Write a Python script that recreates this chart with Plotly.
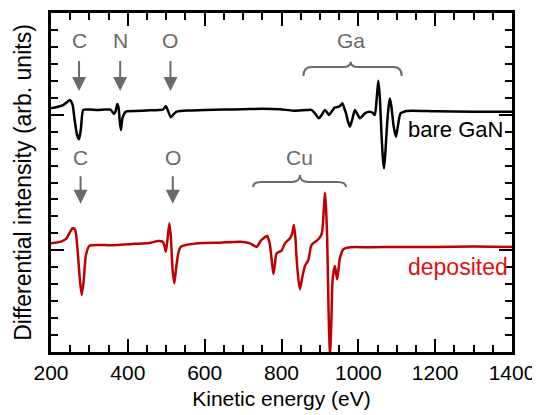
import plotly.graph_objects as go

# bare GaN spectrum (kinetic energy in eV, offset intensity)
bare_x = [200, 215, 230, 242, 249, 256, 262, 268, 273, 278, 284, 300, 320, 340, 355,
          364, 368, 372.6, 376, 379, 382, 386, 395, 420, 450, 480, 492, 499, 505, 512,
          520, 527, 560, 600, 650, 700, 750, 796, 831, 866, 878, 888, 897, 905, 913,
          918, 924, 931, 939, 946, 952, 959, 963, 968, 973, 978, 984, 991, 997, 1004,
          1010, 1017, 1030, 1038, 1043, 1048, 1052, 1056, 1060, 1064, 1067, 1071, 1075,
          1079, 1082, 1086, 1092, 1098, 1104, 1110, 1126, 1200, 1300, 1400]
bare_y = [14.38, 14.45, 14.55, 14.75, 14.87, 14.6, 13.6, 12.8, 12.55, 13.2, 14.28, 14.3,
          14.28, 14.3, 14.3, 14.04, 14.2, 14.63, 14.4, 13.6, 13.1, 13.8, 14.18, 14.22,
          14.25, 14.28, 14.32, 14.5, 14.2, 13.85, 14.05, 14.18, 14.25, 14.28, 14.3, 14.32,
          14.35, 14.32, 14.24, 14.28, 14.28, 14.05, 13.79, 14.0, 14.28, 14.15, 13.98, 14.2,
          14.43, 14.45, 14.51, 14.67, 14.4, 14.08, 13.6, 13.29, 13.7, 14.28, 14.05, 13.79,
          13.9, 14.08, 14.18, 14.1, 13.98, 15.0, 16.0, 15.0, 13.0, 11.4, 10.84, 12.0, 13.49,
          14.5, 14.96, 14.5, 13.3, 12.7, 13.5, 14.08, 14.22, 14.2, 14.18, 14.18]

# Cu-deposited spectrum
dep_x = [200, 226, 239, 250, 256, 262, 265, 270, 275, 280, 285, 291, 300, 350, 374, 420,
         460, 478, 491, 496, 499, 503, 508, 512, 516, 521, 526, 532, 538, 582, 640, 692,
         718, 735, 748, 763, 767, 770, 775, 779, 783, 787, 800, 809, 822, 828, 832, 836,
         839, 844, 848, 854, 861, 870, 878, 896, 905, 909, 913, 916, 919, 922, 926, 930,
         933, 939, 945, 952, 961, 978, 1030, 1100, 1200, 1300, 1400]
dep_y = [6.41, 6.51, 6.67, 7.1, 7.3, 7.25, 7.0, 5.8, 4.3, 3.36, 4.2, 5.72, 6.27, 6.3, 6.31,
         6.38, 6.45, 6.55, 6.51, 6.2, 5.92, 6.6, 7.59, 6.8, 5.0, 4.05, 5.0, 5.9, 6.21, 6.41,
         6.45, 6.51, 6.41, 6.21, 6.61, 6.84, 6.6, 6.31, 5.3, 4.6, 5.2, 5.82, 5.98, 6.41,
         6.71, 7.0, 7.49, 6.8, 5.62, 4.3, 3.7, 4.4, 5.07, 5.43, 6.31, 6.65, 7.0, 8.0, 9.4,
         8.5, 6.61, 3.0, -0.5, 2.0, 4.25, 5.07, 4.29, 5.53, 6.06, 6.18, 6.18, 6.2, 6.2,
         6.22, 6.2]

# element markers
bare_labels = ["C", "N", "O"]
bare_pos = [273, 380, 511]
dep_labels = ["C", "O"]
dep_pos = [277, 517]

FONT = "Liberation Sans, Arial, sans-serif"
GRAY = "#6a6a6a"

fig = go.Figure()
fig.add_trace(go.Scatter(x=bare_x, y=bare_y, mode="lines",
                         line=dict(color="black", width=2.5, shape="spline", smoothing=0.6),
                         showlegend=False))
fig.add_trace(go.Scatter(x=dep_x, y=dep_y, mode="lines",
                         line=dict(color="#c00000", width=2.5, shape="spline", smoothing=0.6),
                         showlegend=False))

ann = []
for lab, xv in zip(bare_labels, bare_pos):
    ann.append(dict(x=xv, y=18.4, text=lab, showarrow=False,
                    font=dict(size=21, color=GRAY, family=FONT)))
    ann.append(dict(x=xv, y=15.4, ax=xv, ay=17.25, axref="x", ayref="y", text="",
                    showarrow=True, arrowhead=2, arrowsize=1.4, arrowwidth=2,
                    arrowcolor=GRAY))
for lab, xv in zip(dep_labels, dep_pos):
    ann.append(dict(x=xv, y=11.5, text=lab, showarrow=False,
                    font=dict(size=21, color=GRAY, family=FONT)))
    ann.append(dict(x=xv, y=8.75, ax=xv, ay=10.45, axref="x", ayref="y", text="",
                    showarrow=True, arrowhead=2, arrowsize=1.4, arrowwidth=2,
                    arrowcolor=GRAY))
ann.append(dict(x=980, y=18.4, text="Ga", showarrow=False,
                font=dict(size=21, color=GRAY, family=FONT)))
ann.append(dict(x=848, y=11.5, text="Cu", showarrow=False,
                font=dict(size=21, color=GRAY, family=FONT)))
ann.append(dict(x=1382, y=13.1, text="bare GaN", showarrow=False, xanchor="right",
                font=dict(size=22, color="black", family=FONT)))
ann.append(dict(x=1396, y=5.0, text="deposited", showarrow=False, xanchor="right",
                font=dict(size=23, color="#e01010", family=FONT)))


def brace(x0, x1, xm, yend, ymid, ytip):
    return (f"M {x0},{yend} Q {x0},{ymid} {x0 + 22},{ymid} L {xm - 22},{ymid} "
            f"Q {xm},{ymid} {xm},{ytip} Q {xm},{ymid} {xm + 22},{ymid} "
            f"L {x1 - 22},{ymid} Q {x1},{ymid} {x1},{yend}")


shapes = [
    dict(type="path", xref="x", yref="y", path=brace(857, 1113, 980, 16.28, 16.81, 17.13),
         line=dict(color=GRAY, width=2)),
    dict(type="path", xref="x", yref="y", path=brace(726, 968, 848, 9.73, 10.03, 10.44),
         line=dict(color=GRAY, width=2)),
]

# page body has an 8 px margin, so the figure is a little smaller than the window
fig.update_layout(
    width=532, height=407,
    margin=dict(l=43, r=28, t=5, b=63),
    plot_bgcolor="white", paper_bgcolor="white",
    font=dict(family=FONT, size=21, color="black"),
    annotations=ann, shapes=shapes,
    xaxis=dict(range=[200, 1400], tickmode="linear", tick0=200, dtick=200,
               ticks="inside", ticklen=13, tickwidth=2, tickcolor="black",
               minor=dict(dtick=50, ticklen=7, tickwidth=1.5, tickcolor="black", ticks="inside"),
               showline=True, linecolor="black", linewidth=2.5, mirror="allticks",
               showgrid=False, zeroline=False, automargin=False,
               title=dict(text="Kinetic energy (eV)", font=dict(size=21), standoff=9),
               tickfont=dict(size=21)),
    yaxis=dict(range=[0, 20], tickmode="array", tickvals=[6, 14],
               ticks="inside", ticklen=13, tickwidth=2, tickcolor="black",
               minor=dict(dtick=1, ticklen=7, tickwidth=1.5, tickcolor="black", ticks="inside"),
               showline=True, linecolor="black", linewidth=2.5, mirror="allticks",
               showgrid=False, zeroline=False, showticklabels=False, automargin=False,
               title=dict(text="Differential intensity (arb. units)", font=dict(size=23),
                          standoff=11)),
)

fig.write_html("out.html")
